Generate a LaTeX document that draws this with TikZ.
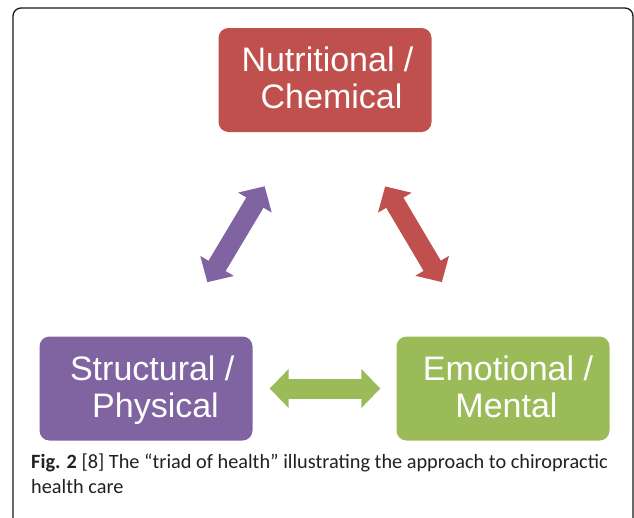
\documentclass[tikz,border=0pt]{standalone}
\usepackage{fontspec}
\setmainfont{Liberation Sans}
\newfontfamily\capfont{Carlito}
\usetikzlibrary{arrows.meta}
\definecolor{redbox}{HTML}{C0504D}
\definecolor{purplebox}{HTML}{8064A2}
\definecolor{greenbox}{HTML}{9BBB59}
\definecolor{captext}{HTML}{231F20}
\tikzset{
  triadbox/.style={rectangle, rounded corners=10pt, minimum width=213pt, minimum height=104pt, inner sep=0pt},
  triadtext/.style={anchor=base, text=white, align=center, inner sep=0pt,
    font=\fontsize{34}{37}\selectfont},
  fatarrow/.style={line width=20pt,
    {Triangle[length=19pt,width=38pt]}-{Triangle[length=19pt,width=38pt]}},
}
\begin{document}
\begin{tikzpicture}[x=1pt,y=-1pt]
\useasboundingbox (0,0) rectangle (634,517);
\draw[line width=1.3pt, rounded corners=8pt, black!90] (13,530) -- (13,8) -- (633,8) -- (633,530);
\node[triadbox, fill=redbox] (N) at (325,80) {};
\node[triadbox, fill=purplebox] (S) at (146,388.5) {};
\node[triadbox, fill=greenbox] (E) at (503,388.5) {};
\node[triadtext] (Nt) at (327.5,108.3) {Nutritional /\hspace{8pt}\\\hspace{8pt}Chemical};
\node[triadtext] (St) at (152.25,417.3) {Structural /\hspace{6.5pt}\\\hspace{6.5pt}Physical};
\node[triadtext] (Et) at (506.5,417.3) {\hspace{3pt}Emotional /\\Mental\hspace{3pt}};
\draw[fatarrow, greenbox, shorten <=17pt, shorten >=16pt] (S.east) -- (E.west);
\draw[fatarrow, purplebox, shorten <=63pt, shorten >=63pt] ([xshift=29pt]S.north) -- ([xshift=-28pt]N.south);
\draw[fatarrow, redbox, shorten <=63pt, shorten >=63pt] ([xshift=28pt]N.south) -- ([xshift=-29pt]E.north);
\node[anchor=base west, inner sep=0pt, align=left, text=captext,
  font=\capfont\fontsize{20.3}{25}\selectfont] (cap) at (31,493)
  {\textbf{Fig. 2} [8] The “triad of health” illustrating the approach to chiropractic\\health care};
\end{tikzpicture}
\end{document}
